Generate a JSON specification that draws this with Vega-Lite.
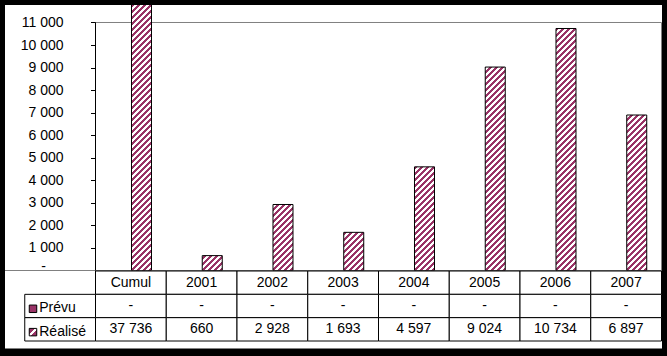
{
"$schema":"https://vega.github.io/schema/vega-lite/v6.json",
"autosize":{"type":"pad"},
"padding":{"left":5,"top":5,"right":5,"bottom":8},
"background":"black",
"spacing":0,
"bounds":"flush",
"data":{"values":[
{"cat":"Cumul","serie":"Prévu","value":0},{"cat":"Cumul","serie":"Réalisé","value":37736},
{"cat":"2001","serie":"Prévu","value":0},{"cat":"2001","serie":"Réalisé","value":660},
{"cat":"2002","serie":"Prévu","value":0},{"cat":"2002","serie":"Réalisé","value":2928},
{"cat":"2003","serie":"Prévu","value":0},{"cat":"2003","serie":"Réalisé","value":1693},
{"cat":"2004","serie":"Prévu","value":0},{"cat":"2004","serie":"Réalisé","value":4597},
{"cat":"2005","serie":"Prévu","value":0},{"cat":"2005","serie":"Réalisé","value":9024},
{"cat":"2006","serie":"Prévu","value":0},{"cat":"2006","serie":"Réalisé","value":10734},
{"cat":"2007","serie":"Prévu","value":0},{"cat":"2007","serie":"Réalisé","value":6897}
]},
"vconcat":[
{"width":657,"height":265.5,
 "layer":[
{"transform":[{"filter":"datum.serie == 'Réalisé'"}],
 "mark":{"type":"rect","clip":true,"fill":{"gradient":"linear","x1":0,"y1":0,"x2":0.080545,"y2":1.06924,"stops":[
{"offset":0,"color":"#936"},
{"offset":0.0105,"color":"#936"},{"offset":0.0105,"color":"#fff"},
{"offset":0.021,"color":"#fff"},{"offset":0.021,"color":"#936"},
{"offset":0.0315,"color":"#936"},{"offset":0.0315,"color":"#fff"},
{"offset":0.042,"color":"#fff"},{"offset":0.042,"color":"#936"},
{"offset":0.0525,"color":"#936"},{"offset":0.0525,"color":"#fff"},
{"offset":0.063,"color":"#fff"},{"offset":0.063,"color":"#936"},
{"offset":0.0735,"color":"#936"},{"offset":0.0735,"color":"#fff"},
{"offset":0.084,"color":"#fff"},{"offset":0.084,"color":"#936"},
{"offset":0.0945,"color":"#936"},{"offset":0.0945,"color":"#fff"},
{"offset":0.105,"color":"#fff"},{"offset":0.105,"color":"#936"},
{"offset":0.1155,"color":"#936"},{"offset":0.1155,"color":"#fff"},
{"offset":0.126,"color":"#fff"},{"offset":0.126,"color":"#936"},
{"offset":0.1365,"color":"#936"},{"offset":0.1365,"color":"#fff"},
{"offset":0.147,"color":"#fff"},{"offset":0.147,"color":"#936"},
{"offset":0.1575,"color":"#936"},{"offset":0.1575,"color":"#fff"},
{"offset":0.168,"color":"#fff"},{"offset":0.168,"color":"#936"},
{"offset":0.1785,"color":"#936"},{"offset":0.1785,"color":"#fff"},
{"offset":0.189,"color":"#fff"},{"offset":0.189,"color":"#936"},
{"offset":0.1995,"color":"#936"},{"offset":0.1995,"color":"#fff"},
{"offset":0.21,"color":"#fff"},{"offset":0.21,"color":"#936"},
{"offset":0.2205,"color":"#936"},{"offset":0.2205,"color":"#fff"},
{"offset":0.231,"color":"#fff"},{"offset":0.231,"color":"#936"},
{"offset":0.2415,"color":"#936"},{"offset":0.2415,"color":"#fff"},
{"offset":0.252,"color":"#fff"},{"offset":0.252,"color":"#936"},
{"offset":0.2625,"color":"#936"},{"offset":0.2625,"color":"#fff"},
{"offset":0.273,"color":"#fff"},{"offset":0.273,"color":"#936"},
{"offset":0.2835,"color":"#936"},{"offset":0.2835,"color":"#fff"},
{"offset":0.294,"color":"#fff"},{"offset":0.294,"color":"#936"},
{"offset":0.3045,"color":"#936"},{"offset":0.3045,"color":"#fff"},
{"offset":0.315,"color":"#fff"},{"offset":0.315,"color":"#936"},
{"offset":0.3255,"color":"#936"},{"offset":0.3255,"color":"#fff"},
{"offset":0.336,"color":"#fff"},{"offset":0.336,"color":"#936"},
{"offset":0.3465,"color":"#936"},{"offset":0.3465,"color":"#fff"},
{"offset":0.357,"color":"#fff"},{"offset":0.357,"color":"#936"},
{"offset":0.3675,"color":"#936"},{"offset":0.3675,"color":"#fff"},
{"offset":0.378,"color":"#fff"},{"offset":0.378,"color":"#936"},
{"offset":0.3885,"color":"#936"},{"offset":0.3885,"color":"#fff"},
{"offset":0.399,"color":"#fff"},{"offset":0.399,"color":"#936"},
{"offset":0.4095,"color":"#936"},{"offset":0.4095,"color":"#fff"},
{"offset":0.42,"color":"#fff"},{"offset":0.42,"color":"#936"},
{"offset":0.4305,"color":"#936"},{"offset":0.4305,"color":"#fff"},
{"offset":0.441,"color":"#fff"},{"offset":0.441,"color":"#936"},
{"offset":0.4515,"color":"#936"},{"offset":0.4515,"color":"#fff"},
{"offset":0.462,"color":"#fff"},{"offset":0.462,"color":"#936"},
{"offset":0.4725,"color":"#936"},{"offset":0.4725,"color":"#fff"},
{"offset":0.483,"color":"#fff"},{"offset":0.483,"color":"#936"},
{"offset":0.4935,"color":"#936"},{"offset":0.4935,"color":"#fff"},
{"offset":0.504,"color":"#fff"},{"offset":0.504,"color":"#936"},
{"offset":0.5145,"color":"#936"},{"offset":0.5145,"color":"#fff"},
{"offset":0.525,"color":"#fff"},{"offset":0.525,"color":"#936"},
{"offset":0.5355,"color":"#936"},{"offset":0.5355,"color":"#fff"},
{"offset":0.546,"color":"#fff"},{"offset":0.546,"color":"#936"},
{"offset":0.5565,"color":"#936"},{"offset":0.5565,"color":"#fff"},
{"offset":0.567,"color":"#fff"},{"offset":0.567,"color":"#936"},
{"offset":0.5775,"color":"#936"},{"offset":0.5775,"color":"#fff"},
{"offset":0.588,"color":"#fff"},{"offset":0.588,"color":"#936"},
{"offset":0.5985,"color":"#936"},{"offset":0.5985,"color":"#fff"},
{"offset":0.609,"color":"#fff"},{"offset":0.609,"color":"#936"},
{"offset":0.6195,"color":"#936"},{"offset":0.6195,"color":"#fff"},
{"offset":0.63,"color":"#fff"},{"offset":0.63,"color":"#936"},
{"offset":0.6405,"color":"#936"},{"offset":0.6405,"color":"#fff"},
{"offset":0.651,"color":"#fff"},{"offset":0.651,"color":"#936"},
{"offset":0.6615,"color":"#936"},{"offset":0.6615,"color":"#fff"},
{"offset":0.672,"color":"#fff"},{"offset":0.672,"color":"#936"},
{"offset":0.6825,"color":"#936"},{"offset":0.6825,"color":"#fff"},
{"offset":0.693,"color":"#fff"},{"offset":0.693,"color":"#936"},
{"offset":0.7035,"color":"#936"},{"offset":0.7035,"color":"#fff"},
{"offset":0.714,"color":"#fff"},{"offset":0.714,"color":"#936"},
{"offset":0.7245,"color":"#936"},{"offset":0.7245,"color":"#fff"},
{"offset":0.735,"color":"#fff"},{"offset":0.735,"color":"#936"},
{"offset":0.7455,"color":"#936"},{"offset":0.7455,"color":"#fff"},
{"offset":0.756,"color":"#fff"},{"offset":0.756,"color":"#936"},
{"offset":0.7665,"color":"#936"},{"offset":0.7665,"color":"#fff"},
{"offset":0.777,"color":"#fff"},{"offset":0.777,"color":"#936"},
{"offset":0.7875,"color":"#936"},{"offset":0.7875,"color":"#fff"},
{"offset":0.798,"color":"#fff"},{"offset":0.798,"color":"#936"},
{"offset":0.8085,"color":"#936"},{"offset":0.8085,"color":"#fff"},
{"offset":0.819,"color":"#fff"},{"offset":0.819,"color":"#936"},
{"offset":0.8295,"color":"#936"},{"offset":0.8295,"color":"#fff"},
{"offset":0.84,"color":"#fff"},{"offset":0.84,"color":"#936"},
{"offset":0.8505,"color":"#936"},{"offset":0.8505,"color":"#fff"},
{"offset":0.861,"color":"#fff"},{"offset":0.861,"color":"#936"},
{"offset":0.8715,"color":"#936"},{"offset":0.8715,"color":"#fff"},
{"offset":0.882,"color":"#fff"},{"offset":0.882,"color":"#936"},
{"offset":0.8925,"color":"#936"},{"offset":0.8925,"color":"#fff"},
{"offset":0.903,"color":"#fff"},{"offset":0.903,"color":"#936"},
{"offset":0.9135,"color":"#936"},{"offset":0.9135,"color":"#fff"},
{"offset":0.924,"color":"#fff"},{"offset":0.924,"color":"#936"},
{"offset":0.9345,"color":"#936"},{"offset":0.9345,"color":"#fff"},
{"offset":0.945,"color":"#fff"},{"offset":0.945,"color":"#936"},
{"offset":0.9555,"color":"#936"},{"offset":0.9555,"color":"#fff"},
{"offset":0.966,"color":"#fff"},{"offset":0.966,"color":"#936"},
{"offset":0.9765,"color":"#936"},{"offset":0.9765,"color":"#fff"},
{"offset":0.987,"color":"#fff"},{"offset":0.987,"color":"#936"},
{"offset":0.9975,"color":"#936"},{"offset":0.9975,"color":"#fff"},
{"offset":1,"color":"#fff"}]}},
 "encoding":{
  "x":{"field":"cat","type":"nominal","axis":null,"scale":{"type":"band","domain":["lbl","Cumul","2001","2002","2003","2004","2005","2006","2007"],"paddingInner":0,"paddingOuter":0.14311,"align":0.97531,"round":false}},
  "xOffset":{"field":"serie","type":"nominal","scale":{"domain":["Prévu","Réalisé"],"paddingInner":0,"paddingOuter":0.76875,"align":0.5203,"round":false}},
  "y":{"datum":0,"type":"quantitative","scale":{"domain":[0,11776.2],"nice":false,"zero":false},
   "axis":{"orient":"left","offset":-90.5,"values":[0,1000,2000,3000,4000,5000,6000,7000,8000,9000,10000,11000],"labelExpr":"datum.value == 0 ? '-' : format(datum.value, ',')","labelPadding":{"condition":{"test":"datum.value == 0","value":45},"value":27.5},"labelBaseline":{"condition":{"test":"datum.value == 0","value":"alphabetic"},"value":"middle"},"domain":false,"grid":false,"ticks":true,"tickSize":5,"tickColor":"black","tickWidth":1,"labelFont":"Liberation Sans","labelFontSize":14,"labelColor":"black","title":null,"labelFlush":false,"labelOverlap":false}},
  "y2":{"datum":11776.2}
 }},
{"transform":[{"filter":"datum.serie == 'Réalisé' && datum.cat != 'Cumul'"}],
 "mark":{"type":"rect","fill":"white","clip":true},
 "encoding":{"x":{"field":"cat","type":"nominal","axis":null},"y":{"field":"value","type":"quantitative",
   "axis":{"orient":"left","offset":-90.5,"values":[0,1000,2000,3000,4000,5000,6000,7000,8000,9000,10000,11000],"labelExpr":"datum.value == 0 ? '-' : format(datum.value, ',')","labelPadding":{"condition":{"test":"datum.value == 0","value":45},"value":27.5},"labelBaseline":{"condition":{"test":"datum.value == 0","value":"alphabetic"},"value":"middle"},"domain":false,"grid":false,"ticks":true,"tickSize":5,"tickColor":"black","tickWidth":1,"labelFont":"Liberation Sans","labelFontSize":14,"labelColor":"black","title":null,"labelFlush":false,"labelOverlap":false}},"y2":{"datum":11776.2}}},
{"transform":[{"filter":"datum.cat == 'Cumul' && datum.serie == 'Réalisé'"}],
 "mark":{"type":"rule","color":"#808080","strokeWidth":1},
 "encoding":{"x":{"datum":"Cumul","bandPosition":0,"axis":null},"x2":{"datum":"2007","bandPosition":1},"y":{"datum":11000,"type":"quantitative",
   "axis":{"orient":"left","offset":-90.5,"values":[0,1000,2000,3000,4000,5000,6000,7000,8000,9000,10000,11000],"labelExpr":"datum.value == 0 ? '-' : format(datum.value, ',')","labelPadding":{"condition":{"test":"datum.value == 0","value":45},"value":27.5},"labelBaseline":{"condition":{"test":"datum.value == 0","value":"alphabetic"},"value":"middle"},"domain":false,"grid":false,"ticks":true,"tickSize":5,"tickColor":"black","tickWidth":1,"labelFont":"Liberation Sans","labelFontSize":14,"labelColor":"black","title":null,"labelFlush":false,"labelOverlap":false}}}},
{"transform":[{"filter":"datum.cat == 'Cumul' && datum.serie == 'Réalisé'"}],
 "mark":{"type":"rule","color":"#808080","strokeWidth":1},
 "encoding":{"x":{"datum":"2007","bandPosition":1,"axis":null},"y":{"datum":0,"type":"quantitative",
   "axis":{"orient":"left","offset":-90.5,"values":[0,1000,2000,3000,4000,5000,6000,7000,8000,9000,10000,11000],"labelExpr":"datum.value == 0 ? '-' : format(datum.value, ',')","labelPadding":{"condition":{"test":"datum.value == 0","value":45},"value":27.5},"labelBaseline":{"condition":{"test":"datum.value == 0","value":"alphabetic"},"value":"middle"},"domain":false,"grid":false,"ticks":true,"tickSize":5,"tickColor":"black","tickWidth":1,"labelFont":"Liberation Sans","labelFontSize":14,"labelColor":"black","title":null,"labelFlush":false,"labelOverlap":false}},"y2":{"datum":11000}}},
{"transform":[{"filter":"datum.cat == 'Cumul' && datum.serie == 'Réalisé'"}],
 "mark":{"type":"rule","color":"black","strokeWidth":1},
 "encoding":{"x":{"datum":"Cumul","bandPosition":0,"axis":null},"y":{"datum":0,"type":"quantitative",
   "axis":{"orient":"left","offset":-90.5,"values":[0,1000,2000,3000,4000,5000,6000,7000,8000,9000,10000,11000],"labelExpr":"datum.value == 0 ? '-' : format(datum.value, ',')","labelPadding":{"condition":{"test":"datum.value == 0","value":45},"value":27.5},"labelBaseline":{"condition":{"test":"datum.value == 0","value":"alphabetic"},"value":"middle"},"domain":false,"grid":false,"ticks":true,"tickSize":5,"tickColor":"black","tickWidth":1,"labelFont":"Liberation Sans","labelFontSize":14,"labelColor":"black","title":null,"labelFlush":false,"labelOverlap":false}},"y2":{"datum":11000}}},
{"transform":[{"filter":"datum.cat == 'Cumul' && datum.serie == 'Réalisé'"}],
 "mark":{"type":"rect","clip":true,"fill":{"gradient":"linear","x1":0,"y1":0,"x2":0.080545,"y2":1.06924,"stops":[
{"offset":0,"color":"#936"},
{"offset":0.0105,"color":"#936"},{"offset":0.0105,"color":"#fff"},
{"offset":0.021,"color":"#fff"},{"offset":0.021,"color":"#936"},
{"offset":0.0315,"color":"#936"},{"offset":0.0315,"color":"#fff"},
{"offset":0.042,"color":"#fff"},{"offset":0.042,"color":"#936"},
{"offset":0.0525,"color":"#936"},{"offset":0.0525,"color":"#fff"},
{"offset":0.063,"color":"#fff"},{"offset":0.063,"color":"#936"},
{"offset":0.0735,"color":"#936"},{"offset":0.0735,"color":"#fff"},
{"offset":0.084,"color":"#fff"},{"offset":0.084,"color":"#936"},
{"offset":0.0945,"color":"#936"},{"offset":0.0945,"color":"#fff"},
{"offset":0.105,"color":"#fff"},{"offset":0.105,"color":"#936"},
{"offset":0.1155,"color":"#936"},{"offset":0.1155,"color":"#fff"},
{"offset":0.126,"color":"#fff"},{"offset":0.126,"color":"#936"},
{"offset":0.1365,"color":"#936"},{"offset":0.1365,"color":"#fff"},
{"offset":0.147,"color":"#fff"},{"offset":0.147,"color":"#936"},
{"offset":0.1575,"color":"#936"},{"offset":0.1575,"color":"#fff"},
{"offset":0.168,"color":"#fff"},{"offset":0.168,"color":"#936"},
{"offset":0.1785,"color":"#936"},{"offset":0.1785,"color":"#fff"},
{"offset":0.189,"color":"#fff"},{"offset":0.189,"color":"#936"},
{"offset":0.1995,"color":"#936"},{"offset":0.1995,"color":"#fff"},
{"offset":0.21,"color":"#fff"},{"offset":0.21,"color":"#936"},
{"offset":0.2205,"color":"#936"},{"offset":0.2205,"color":"#fff"},
{"offset":0.231,"color":"#fff"},{"offset":0.231,"color":"#936"},
{"offset":0.2415,"color":"#936"},{"offset":0.2415,"color":"#fff"},
{"offset":0.252,"color":"#fff"},{"offset":0.252,"color":"#936"},
{"offset":0.2625,"color":"#936"},{"offset":0.2625,"color":"#fff"},
{"offset":0.273,"color":"#fff"},{"offset":0.273,"color":"#936"},
{"offset":0.2835,"color":"#936"},{"offset":0.2835,"color":"#fff"},
{"offset":0.294,"color":"#fff"},{"offset":0.294,"color":"#936"},
{"offset":0.3045,"color":"#936"},{"offset":0.3045,"color":"#fff"},
{"offset":0.315,"color":"#fff"},{"offset":0.315,"color":"#936"},
{"offset":0.3255,"color":"#936"},{"offset":0.3255,"color":"#fff"},
{"offset":0.336,"color":"#fff"},{"offset":0.336,"color":"#936"},
{"offset":0.3465,"color":"#936"},{"offset":0.3465,"color":"#fff"},
{"offset":0.357,"color":"#fff"},{"offset":0.357,"color":"#936"},
{"offset":0.3675,"color":"#936"},{"offset":0.3675,"color":"#fff"},
{"offset":0.378,"color":"#fff"},{"offset":0.378,"color":"#936"},
{"offset":0.3885,"color":"#936"},{"offset":0.3885,"color":"#fff"},
{"offset":0.399,"color":"#fff"},{"offset":0.399,"color":"#936"},
{"offset":0.4095,"color":"#936"},{"offset":0.4095,"color":"#fff"},
{"offset":0.42,"color":"#fff"},{"offset":0.42,"color":"#936"},
{"offset":0.4305,"color":"#936"},{"offset":0.4305,"color":"#fff"},
{"offset":0.441,"color":"#fff"},{"offset":0.441,"color":"#936"},
{"offset":0.4515,"color":"#936"},{"offset":0.4515,"color":"#fff"},
{"offset":0.462,"color":"#fff"},{"offset":0.462,"color":"#936"},
{"offset":0.4725,"color":"#936"},{"offset":0.4725,"color":"#fff"},
{"offset":0.483,"color":"#fff"},{"offset":0.483,"color":"#936"},
{"offset":0.4935,"color":"#936"},{"offset":0.4935,"color":"#fff"},
{"offset":0.504,"color":"#fff"},{"offset":0.504,"color":"#936"},
{"offset":0.5145,"color":"#936"},{"offset":0.5145,"color":"#fff"},
{"offset":0.525,"color":"#fff"},{"offset":0.525,"color":"#936"},
{"offset":0.5355,"color":"#936"},{"offset":0.5355,"color":"#fff"},
{"offset":0.546,"color":"#fff"},{"offset":0.546,"color":"#936"},
{"offset":0.5565,"color":"#936"},{"offset":0.5565,"color":"#fff"},
{"offset":0.567,"color":"#fff"},{"offset":0.567,"color":"#936"},
{"offset":0.5775,"color":"#936"},{"offset":0.5775,"color":"#fff"},
{"offset":0.588,"color":"#fff"},{"offset":0.588,"color":"#936"},
{"offset":0.5985,"color":"#936"},{"offset":0.5985,"color":"#fff"},
{"offset":0.609,"color":"#fff"},{"offset":0.609,"color":"#936"},
{"offset":0.6195,"color":"#936"},{"offset":0.6195,"color":"#fff"},
{"offset":0.63,"color":"#fff"},{"offset":0.63,"color":"#936"},
{"offset":0.6405,"color":"#936"},{"offset":0.6405,"color":"#fff"},
{"offset":0.651,"color":"#fff"},{"offset":0.651,"color":"#936"},
{"offset":0.6615,"color":"#936"},{"offset":0.6615,"color":"#fff"},
{"offset":0.672,"color":"#fff"},{"offset":0.672,"color":"#936"},
{"offset":0.6825,"color":"#936"},{"offset":0.6825,"color":"#fff"},
{"offset":0.693,"color":"#fff"},{"offset":0.693,"color":"#936"},
{"offset":0.7035,"color":"#936"},{"offset":0.7035,"color":"#fff"},
{"offset":0.714,"color":"#fff"},{"offset":0.714,"color":"#936"},
{"offset":0.7245,"color":"#936"},{"offset":0.7245,"color":"#fff"},
{"offset":0.735,"color":"#fff"},{"offset":0.735,"color":"#936"},
{"offset":0.7455,"color":"#936"},{"offset":0.7455,"color":"#fff"},
{"offset":0.756,"color":"#fff"},{"offset":0.756,"color":"#936"},
{"offset":0.7665,"color":"#936"},{"offset":0.7665,"color":"#fff"},
{"offset":0.777,"color":"#fff"},{"offset":0.777,"color":"#936"},
{"offset":0.7875,"color":"#936"},{"offset":0.7875,"color":"#fff"},
{"offset":0.798,"color":"#fff"},{"offset":0.798,"color":"#936"},
{"offset":0.8085,"color":"#936"},{"offset":0.8085,"color":"#fff"},
{"offset":0.819,"color":"#fff"},{"offset":0.819,"color":"#936"},
{"offset":0.8295,"color":"#936"},{"offset":0.8295,"color":"#fff"},
{"offset":0.84,"color":"#fff"},{"offset":0.84,"color":"#936"},
{"offset":0.8505,"color":"#936"},{"offset":0.8505,"color":"#fff"},
{"offset":0.861,"color":"#fff"},{"offset":0.861,"color":"#936"},
{"offset":0.8715,"color":"#936"},{"offset":0.8715,"color":"#fff"},
{"offset":0.882,"color":"#fff"},{"offset":0.882,"color":"#936"},
{"offset":0.8925,"color":"#936"},{"offset":0.8925,"color":"#fff"},
{"offset":0.903,"color":"#fff"},{"offset":0.903,"color":"#936"},
{"offset":0.9135,"color":"#936"},{"offset":0.9135,"color":"#fff"},
{"offset":0.924,"color":"#fff"},{"offset":0.924,"color":"#936"},
{"offset":0.9345,"color":"#936"},{"offset":0.9345,"color":"#fff"},
{"offset":0.945,"color":"#fff"},{"offset":0.945,"color":"#936"},
{"offset":0.9555,"color":"#936"},{"offset":0.9555,"color":"#fff"},
{"offset":0.966,"color":"#fff"},{"offset":0.966,"color":"#936"},
{"offset":0.9765,"color":"#936"},{"offset":0.9765,"color":"#fff"},
{"offset":0.987,"color":"#fff"},{"offset":0.987,"color":"#936"},
{"offset":0.9975,"color":"#936"},{"offset":0.9975,"color":"#fff"},
{"offset":1,"color":"#fff"}]}},
 "encoding":{"x":{"field":"cat","type":"nominal","axis":null},"xOffset":{"field":"serie","type":"nominal"},"y":{"datum":0,"type":"quantitative",
   "axis":{"orient":"left","offset":-90.5,"values":[0,1000,2000,3000,4000,5000,6000,7000,8000,9000,10000,11000],"labelExpr":"datum.value == 0 ? '-' : format(datum.value, ',')","labelPadding":{"condition":{"test":"datum.value == 0","value":45},"value":27.5},"labelBaseline":{"condition":{"test":"datum.value == 0","value":"alphabetic"},"value":"middle"},"domain":false,"grid":false,"ticks":true,"tickSize":5,"tickColor":"black","tickWidth":1,"labelFont":"Liberation Sans","labelFontSize":14,"labelColor":"black","title":null,"labelFlush":false,"labelOverlap":false}},"y2":{"datum":11776.2}}},
{"transform":[{"filter":"datum.serie == 'Réalisé'"}],
 "mark":{"type":"rect","fillOpacity":0,"stroke":"black","strokeWidth":1,"clip":true},
 "encoding":{"x":{"field":"cat","type":"nominal","axis":null},"xOffset":{"field":"serie","type":"nominal"},"y":{"field":"value","type":"quantitative",
   "axis":{"orient":"left","offset":-90.5,"values":[0,1000,2000,3000,4000,5000,6000,7000,8000,9000,10000,11000],"labelExpr":"datum.value == 0 ? '-' : format(datum.value, ',')","labelPadding":{"condition":{"test":"datum.value == 0","value":45},"value":27.5},"labelBaseline":{"condition":{"test":"datum.value == 0","value":"alphabetic"},"value":"middle"},"domain":false,"grid":false,"ticks":true,"tickSize":5,"tickColor":"black","tickWidth":1,"labelFont":"Liberation Sans","labelFontSize":14,"labelColor":"black","title":null,"labelFlush":false,"labelOverlap":false}},"y2":{"datum":0}}}
 ]},
{"width":657,"height":77.5,
 "layer":[
{"transform":[{"filter":"datum.serie == 'Réalisé'"}],
 "mark":{"type":"rect","fill":"white","stroke":"black","strokeWidth":1},
 "encoding":{
  "x":{"field":"cat","type":"nominal","axis":null,"scale":{"type":"band","domain":["lbl","Cumul","2001","2002","2003","2004","2005","2006","2007"],"paddingInner":0,"paddingOuter":0.14311,"align":0.97531,"round":false}},
  "y":{"datum":"header","type":"nominal","axis":null,"scale":{"type":"band","domain":["header","Prévu","Réalisé"],"paddingInner":0,"paddingOuter":0.1607,"align":0,"round":false}}
 }},
{"mark":{"type":"rect","fill":"white","stroke":"black","strokeWidth":1},
 "encoding":{"x":{"field":"cat","type":"nominal","axis":null},"y":{"field":"serie","type":"nominal","axis":null}}},
{"transform":[{"filter":"datum.cat == 'Cumul'"}],
 "mark":{"type":"rect","fill":"white","stroke":"black","strokeWidth":1},
 "encoding":{"x":{"datum":"lbl","axis":null},"y":{"field":"serie","type":"nominal","axis":null}}},
{"transform":[{"filter":"datum.serie == 'Réalisé'"}],
 "mark":{"type":"text","font":"Liberation Sans","fontSize":14,"color":"black","align":"center","baseline":"middle"},
 "encoding":{"x":{"field":"cat","type":"nominal","axis":null},"y":{"datum":"header","axis":null},"text":{"field":"cat","type":"nominal"}}},
{"mark":{"type":"text","font":"Liberation Sans","fontSize":14,"color":"black","align":"center","baseline":"middle"},
 "encoding":{"x":{"field":"cat","type":"nominal","axis":null},"y":{"field":"serie","type":"nominal","axis":null},
  "text":{"condition":{"test":"datum.value == 0","value":"-"},"field":"value","type":"quantitative","format":","}}},
{"transform":[{"filter":"datum.cat == 'Cumul'"}],
 "mark":{"type":"text","font":"Liberation Sans","fontSize":14,"color":"black","align":"left","baseline":"middle"},
 "encoding":{"x":{"datum":"lbl","bandPosition":0.205,"axis":null},"y":{"field":"serie","type":"nominal","bandPosition":0.6,"axis":null},"text":{"field":"serie","type":"nominal"}}},
{"transform":[{"filter":"datum.cat == 'Cumul' && datum.serie == 'Prévu'"}],
 "mark":{"type":"point","shape":"square","filled":true,"fill":"#993366","stroke":"black","strokeWidth":1,"size":56,"opacity":1},
 "encoding":{"x":{"datum":"lbl","bandPosition":0.1166,"axis":null},"y":{"field":"serie","type":"nominal","bandPosition":0.62,"axis":null}}},
{"transform":[{"filter":"datum.cat == 'Cumul' && datum.serie == 'Réalisé'"}],
 "mark":{"type":"point","shape":"square","filled":true,"stroke":"black","strokeWidth":1,"size":56,"opacity":1,
  "fill":{"gradient":"linear","x1":0,"y1":0,"x2":1,"y2":1,"stops":[{"offset":0,"color":"#936"},{"offset":0.38,"color":"#936"},{"offset":0.38,"color":"#fff"},{"offset":0.62,"color":"#fff"},{"offset":0.62,"color":"#936"},{"offset":1,"color":"#936"}]}},
 "encoding":{"x":{"datum":"lbl","bandPosition":0.1166,"axis":null},"y":{"field":"serie","type":"nominal","bandPosition":0.62,"axis":null}}}
 ]}
],
"config":{
 "view":{"fill":"white","stroke":null},
 "locale":{"number":{"decimal":",","thousands":" ","grouping":[3],"currency":[""," €"]}}
}
}
